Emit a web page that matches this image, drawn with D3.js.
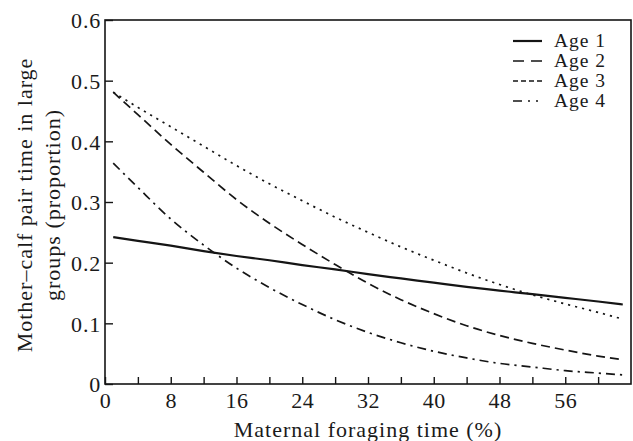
<!DOCTYPE html>
<html>
<head>
<meta charset="utf-8">
<script src="https://cdn.jsdelivr.net/npm/d3@7"></script>
<style>
  html, body { margin: 0; padding: 0; background: #fff; }
  svg { display: block; }
  svg text { font-family: 'Liberation Serif', 'DejaVu Serif', serif !important; fill: #1a1a1a; }
</style>
</head>
<body>
<svg id="chart" width="633" height="441"></svg>
<script>
// ---- data ----
const foragingTime = [1, 4, 8, 12, 16, 20, 24, 28, 32, 36, 40, 44, 48, 52, 56, 60, 63];
const age1 = [0.242, 0.236, 0.228, 0.219, 0.211, 0.204, 0.196, 0.189, 0.181, 0.174, 0.167, 0.160, 0.154, 0.148, 0.142, 0.136, 0.131];
const age2 = [0.481, 0.444, 0.395, 0.349, 0.304, 0.265, 0.230, 0.197, 0.166, 0.139, 0.116, 0.096, 0.080, 0.067, 0.056, 0.046, 0.040];
const age3 = [0.481, 0.456, 0.424, 0.392, 0.360, 0.330, 0.302, 0.275, 0.250, 0.226, 0.204, 0.183, 0.164, 0.147, 0.132, 0.118, 0.107];
const age4 = [0.364, 0.324, 0.272, 0.229, 0.191, 0.159, 0.131, 0.106, 0.085, 0.068, 0.054, 0.043, 0.034, 0.028, 0.022, 0.018, 0.015];
const seriesNames = ["Age 1", "Age 2", "Age 3", "Age 4"];
const xTickValues = [0, 4, 8, 12, 16, 20, 24, 28, 32, 36, 40, 44, 48, 52, 56, 60];
const xTickLabels = ["0", "", "8", "", "16", "", "24", "", "32", "", "40", "", "48", "", "56", ""];
const yTickValues = [0, 0.1, 0.2, 0.3, 0.4, 0.5, 0.6];
const yTickLabels = ["0", "0.1", "0.2", "0.3", "0.4", "0.5", "0.6"];
const xTitle = "Maternal foraging time (%)";
const yTitleLines = ["Mother\u2013calf pair time in large", "groups (proportion)"];

// ---- layout ----
const W = 633, H = 441;
const m = { left: 105, top: 20, right: 2, bottom: 57 };
const FONT = "'Liberation Serif', 'DejaVu Serif', serif";
const FS = 22;
const svg = d3.select("#chart");
const x = d3.scaleLinear().domain([0, 64]).range([m.left, W - m.right]);
const y = d3.scaleLinear().domain([0, 0.6]).range([H - m.bottom, m.top]);
const ink = "#151515";

const styles = [
  { width: 2.2, dash: null },
  { width: 1.7, dash: "9,5" },
  { width: 1.7, dash: "2.2,5" },
  { width: 1.7, dash: "9,5,2.2,5" }
];
const legendDash = [null, "11,7,11,20", "5,3", "9,6,2,6,2,20"];
const allSeries = [age1, age2, age3, age4];

// frame
svg.append("rect")
  .attr("x", x(0)).attr("y", y(0.6))
  .attr("width", x(64) - x(0)).attr("height", y(0) - y(0.6))
  .attr("fill", "none").attr("stroke", ink).attr("stroke-width", 1.6);

// x axis (ticks pointing inward/up)
const xAxis = d3.axisBottom(x).tickValues(xTickValues)
  .tickSize(-7).tickPadding(12)
  .tickFormat((d, i) => xTickLabels[i]);
const gx = svg.append("g").attr("transform", `translate(0,${y(0)})`).call(xAxis)
  .attr("font-family", FONT).attr("font-size", FS);
gx.select(".domain").remove();
gx.selectAll(".tick line").attr("stroke", ink).attr("stroke-width", 1.4);
gx.selectAll(".tick text")
  .attr("font-family", FONT).attr("font-size", FS).attr("letter-spacing", "0.6px")
  .attr("fill", ink).attr("dy", "0.71em").attr("y", 8);

// y axis (ticks pointing inward/right)
const yAxis = d3.axisLeft(y).tickValues(yTickValues)
  .tickSize(-8).tickPadding(5)
  .tickFormat((d, i) => yTickLabels[i]);
const gy = svg.append("g").attr("transform", `translate(${x(0)},0)`).call(yAxis)
  .attr("font-family", FONT).attr("font-size", FS);
gy.select(".domain").remove();
gy.selectAll(".tick line").attr("stroke", ink).attr("stroke-width", 1.4);
gy.selectAll(".tick text")
  .attr("font-family", FONT).attr("font-size", FS).attr("letter-spacing", "0.8px")
  .attr("fill", ink).attr("x", -4).attr("dy", "0.35em");

// lines
const line = d3.line()
  .x((d, i) => x(foragingTime[i]))
  .y(d => y(d))
  .curve(d3.curveMonotoneX);
allSeries.forEach((s, k) => {
  svg.append("path")
    .datum(s)
    .attr("d", line)
    .attr("fill", "none")
    .attr("stroke", ink)
    .attr("stroke-width", styles[k].width)
    .attr("stroke-dasharray", styles[k].dash);
});

// legend
const lg = svg.append("g");
seriesNames.forEach((name, k) => {
  const cy = 41 + k * 20;
  lg.append("line")
    .attr("x1", 513).attr("x2", 542).attr("y1", cy).attr("y2", cy)
    .attr("stroke", ink).attr("stroke-width", styles[k].width)
    .attr("stroke-dasharray", legendDash[k]);
  lg.append("text")
    .attr("x", 554).attr("y", cy + 6)
    .attr("font-family", FONT)
    .attr("font-size", 19.5).attr("letter-spacing", "1px")
    .text(name);
});

// axis titles
svg.append("text")
  .attr("x", (x(0) + x(64)) / 2).attr("y", 437)
  .attr("text-anchor", "middle")
  .attr("font-family", FONT)
  .attr("font-size", FS).attr("letter-spacing", "1px")
  .text(xTitle);

yTitleLines.forEach((t, i) => {
  svg.append("text")
    .attr("transform", `translate(${32 + i * 28},205) rotate(-90)`)
    .attr("text-anchor", "middle")
    .attr("font-family", FONT)
    .attr("font-size", FS).attr("letter-spacing", "1px")
    .text(t);
});
</script>
</body>
</html>
